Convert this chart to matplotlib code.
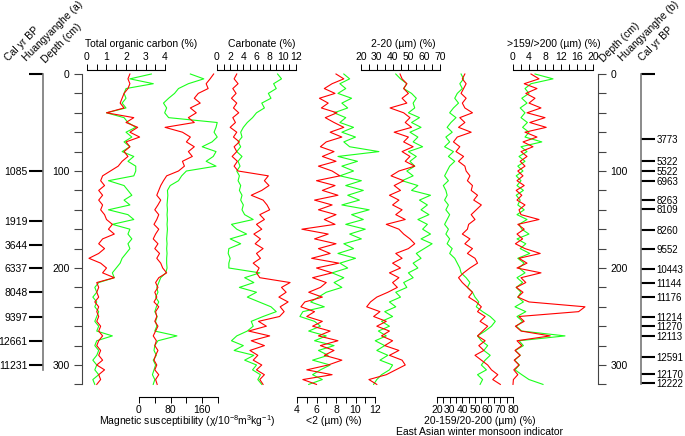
import matplotlib
matplotlib.use('Agg')
import matplotlib.pyplot as plt
from matplotlib.ticker import MultipleLocator

plt.rcParams['font.family'] = ['Liberation Sans', 'DejaVu Sans']
plt.rcParams['mathtext.default'] = 'regular'
plt.rcParams['font.size'] = 7.5

# ---------------------------------------------------------------- data
depth = [0, 5, 10, 15, 20, 25, 30, 35, 40, 45, 50, 55, 60, 65, 70, 75, 80, 85, 90, 95,
         100, 105, 110, 115, 120, 125, 130, 135, 140, 145, 150, 155, 160, 165, 170, 175,
         180, 185, 190, 195, 200, 205, 210, 215, 220, 225, 230, 235, 240, 245, 250, 255,
         260, 265, 270, 275, 280, 285, 290, 295, 300, 305, 310, 315, 320]

toc_red = [2.2, 2.1, 2.2, 2.1, 1.9, 1.8, 1.7, 1.9, 1.0, 2.4, 2.0, 2.6, 2.2, 2.7, 2.0, 2.2,
           1.9, 2.1, 1.8, 1.6, 1.2, 0.8, 0.7, 0.9, 0.6, 0.8, 0.6, 0.8, 0.7, 0.9, 1.0, 1.3,
           1.1, 1.4, 0.8, 0.6, 0.9, 0.6, 0.1, 0.7, 1.0, 0.8, 1.4, 0.5, 0.6, 0.5, 0.6, 0.4,
           0.6, 0.5, 0.6, 0.5, 0.7, 0.6, 0.8, 0.6, 0.5, 0.7, 0.6, 0.8, 0.5, 0.9, 0.6, 0.7, 0.5]
toc_green = [3.3, 2.2, 3.4, 2.0, 1.9, 2.0, 1.8, 2.0, 1.0, 1.9, 2.1, 2.5, 2.0, 2.3, 1.9, 2.2,
             1.8, 2.4, 2.1, 2.5, 2.5, 2.4, 1.1, 1.9, 2.1, 2.3, 1.9, 2.2, 1.1, 2.1, 2.4, 1.3,
             2.2, 2.1, 2.3, 2.1, 2.2, 2.0, 1.8, 1.7, 1.5, 1.3, 1.4, 0.6, 0.4, 0.5, 0.3, 0.5,
             0.4, 0.6, 0.5, 0.4, 0.6, 0.5, 1.3, 0.5, 0.4, 0.6, 0.5, 0.3, 0.5, 0.4, 0.6, 0.3, 0.4]

ms_red = [189, 180, 170, 175, 150, 140, 155, 130, 145, 125, 140, 66, 110, 130, 120, 140,
          125, 135, 110, 115, 100, 70, 62, 55, 50, 45, 55, 48, 40, 50, 45, 38,
          50, 42, 36, 48, 40, 52, 45, 55, 60, 70, 50, 42, 48, 40, 45, 38,
          50, 42, 45, 40, 48, 42, 36, 44, 40, 48, 42, 38, 45, 40, 50, 42, 46]
ms_green = [130, 164, 125, 100, 90, 75, 62, 70, 65, 75, 198, 195, 190, 198, 185, 160,
            195, 188, 170, 195, 120, 108, 100, 79, 72, 73, 72, 71, 72, 71, 72, 71,
            72, 71, 70, 71, 70, 71, 70, 70, 71, 68, 55, 50, 45, 48, 42, 50,
            44, 40, 46, 42, 45, 40, 96, 48, 40, 38, 44, 36, 42, 38, 34, 40, 36]

carb_red = [3.0, 2.6, 3.2, 2.4, 2.9, 2.2, 3.0, 2.5, 3.3, 2.4, 2.8, 2.0, 3.0, 2.5, 3.4, 2.6,
            3.0, 2.3, 3.1, 2.6, 3.2, 7.8, 7.2, 7.9, 6.8, 5.2, 7.0, 7.6, 8.0, 6.5, 7.2, 6.0,
            6.8, 5.6, 6.6, 5.8, 7.0, 6.0, 6.6, 5.5, 6.4, 6.0, 6.5, 11.1, 9.8, 10.5, 9.4, 10.8,
            9.6, 10.2, 9.5, 6.3, 7.5, 4.8, 8.0, 5.2, 7.2, 5.0, 6.2, 5.5, 6.8, 6.0, 7.2, 6.5, 7.0]
carb_green = [9.2, 9.8, 8.6, 9.0, 7.8, 8.2, 6.8, 7.2, 6.0, 5.4, 4.6, 4.0, 3.6, 3.8, 3.2, 3.6,
              3.0, 3.8, 3.2, 3.5, 3.0, 3.4, 3.2, 3.6, 3.4, 3.8, 3.6, 4.0, 3.8, 4.2, 5.5, 2.2,
              3.0, 4.5, 2.0, 3.6, 1.8, 1.7, 2.0, 1.8, 1.8, 6.5, 4.2, 5.6, 3.4, 6.0, 4.6, 6.4,
              8.2, 9.0, 7.0, 5.2, 5.5, 4.6, 3.0, 2.2, 4.0, 2.6, 5.6, 4.2, 6.0, 5.4, 6.6, 6.2, 6.8]

clay_red = [8.0, 8.8, 7.6, 6.8, 7.9, 6.3, 7.2, 6.5, 8.1, 6.9, 7.8, 8.8, 7.4, 8.6, 7.0, 6.4,
            7.8, 6.6, 8.0, 6.2, 7.6, 8.4, 6.0, 7.9, 6.6, 8.2, 5.8, 7.6, 6.2, 8.0, 6.8, 7.9,
            4.5, 7.2, 5.8, 8.0, 6.2, 7.4, 5.5, 8.3, 6.0, 7.6, 5.6, 7.0, 6.4, 5.2, 6.6, 4.8,
            4.4, 5.8, 5.0, 6.6, 5.6, 7.4, 6.2, 8.2, 6.4, 7.8, 6.8, 8.6, 7.2, 5.0, 7.6, 4.6, 6.0]
clay_green = [8.8, 9.4, 8.4, 9.0, 8.2, 9.6, 8.6, 9.2, 7.8, 9.0, 8.4, 9.8, 8.6, 10.0, 8.8, 9.4,
              12.4, 8.2, 10.2, 8.6, 9.8, 8.4, 10.6, 9.0, 10.8, 9.2, 10.4, 8.6, 11.4, 9.6, 10.8, 9.0,
              11.0, 9.4, 10.6, 8.8, 9.8, 8.2, 10.0, 8.4, 9.2, 7.6, 8.8, 7.8, 8.6, 7.0, 6.2, 5.4,
              6.8, 4.6, 4.3, 5.8, 6.4, 5.2, 7.0, 5.8, 7.8, 6.2, 7.2, 5.6, 7.4, 6.4, 5.6, 6.6, 5.2]

silt_red = [44.7, 46, 49, 47, 50, 46, 49, 38.4, 47, 51, 48, 52, 41, 50, 47, 53,
            46, 51, 48, 54, 44, 39, 47, 41, 45, 38, 44, 40, 46, 42, 48, 36,
            44, 47, 51, 54, 50, 42, 46, 40, 45, 38, 44, 40, 43, 37, 30, 26,
            23.6, 32, 28, 36, 30, 38, 33, 40, 35, 44, 38, 46, 48, 42, 36, 25, 30]
silt_green = [42, 45, 49, 47, 52, 55, 53, 54, 50, 57, 52, 58, 51, 56, 53, 59,
              50, 55, 51, 54, 49, 53, 46, 56, 52, 64, 57, 62, 58, 63, 56, 62,
              59, 64, 58, 65, 60, 55, 58, 53, 56, 50, 53, 47, 49, 42, 45, 38,
              42, 35, 40, 33, 38, 31, 36, 29, 35, 30, 37, 32, 40, 38, 33, 30, 28]

wm_red = [42, 40, 43, 41, 39, 43, 40, 42, 48, 38, 42, 37, 47, 36, 33, 38,
          35, 41, 37, 42, 43, 46, 44, 48, 47, 52, 49, 55, 51, 47, 50, 45,
          44, 40, 46, 42, 48, 44, 50, 52, 46, 41, 37, 40, 44, 48, 45, 51,
          55, 52, 58, 54, 60, 56, 52, 58, 53, 57, 50, 55, 60, 63, 68, 64, 70]
wm_green = [39, 41, 38, 40, 36, 34, 37, 33, 30, 35, 31, 28, 32, 27, 30, 26,
            33, 29, 34, 30, 28, 26, 29, 25, 27, 28, 26, 29, 27, 30, 28, 26,
            29, 27, 30, 28, 32, 30, 34, 36, 38, 39, 43, 46, 44, 48, 50, 53,
            51, 56, 62, 66, 63, 58, 52, 55, 60, 57, 62, 58, 55, 59, 52, 56, 54]

coarse_red = [4.5, 6.5, 2.8, 6.0, 3.2, 5.5, 4.0, 7.0, 3.5, 8.0, 4.2, 8.3, 3.0, 6.0, 2.5, 5.0,
              2.0, 3.5, 1.8, 3.0, 1.2, 2.5, 1.0, 2.8, 0.8, 2.2, 1.0, 3.0, 1.5, 2.0, 6.5, 1.2,
              2.8, 1.0, 2.4, 0.6, 3.0, 6.8, 1.5, 3.5, 1.0, 7.0, 2.0, 3.2, 0.8, 2.5, 1.2, 4.0,
              18.0, 16.4, 1.5, 2.8, 0.6, 2.0, 9.3, 1.0, 2.2, 0.5, 1.8, 0.3, 1.5, 0.2, 1.2, 0.1, 0.0]
coarse_green = [5.5, 10.0, 4.5, 3.0, 4.0, 2.2, 3.5, 1.8, 3.0, 2.0, 3.6, 2.4, 4.0, 3.0, 7.2, 2.0,
                3.5, 1.5, 3.0, 1.2, 2.5, 0.8, 2.0, 1.0, 2.6, 0.8, 1.8, 1.2, 2.8, 1.0, 3.5, 1.5,
                2.2, 4.0, 1.0, 3.2, 1.8, 4.2, 1.2, 2.8, 1.5, 3.0, 1.0, 2.4, 0.8, 2.0, 1.2, 2.6,
                0.5, 3.2, 1.0, 2.4, 0.8, 2.2, 13.0, 1.5, 2.6, 0.6, 1.8, 0.4, 1.6, 0.5, 2.2, 4.0, 7.5]

calyr_a_depth = [0, 100, 151.5, 176, 200.5, 224.5, 250, 275, 300]
calyr_a_labels = ['', '1085', '1919', '3644', '6337', '8048', '9397', '12661', '11231']
calyr_b_depth = [0, 67.3, 89.7, 99.5, 110, 129.9, 138.8, 160.8, 180.8, 201.4, 215, 230,
                 250, 260, 270.5, 291.8, 309, 318.5]
calyr_b_labels = ['', '3773', '5322', '5522', '6963', '8263', '8109', '8260', '9552', '10443',
                  '11144', '11176', '11214', '11270', '12113', '12591', '12170', '12222']

# ---------------------------------------------------------------- layout
W, H = 685, 436
fig = plt.figure(figsize=(W / 100, H / 100), dpi=100)
Y_TOP, Y_BOT = 74, 384.4   # pixel rows of depth 0 and depth 320
DMAX = 320
RED, GREEN = '#ff0000', '#1aff1a'


def px_axes(x0, x1):
    ax = fig.add_axes([x0 / W, 1 - Y_BOT / H, (x1 - x0) / W, (Y_BOT - Y_TOP) / H])
    ax.patch.set_alpha(0)
    ax.set_ylim(DMAX, 0)
    for s in ax.spines.values():
        s.set_visible(False)
    ax.set_yticks([])
    return ax


def panel(x0, x1, lim, major, minor, side, red, green):
    ax = px_axes(x0, x1)
    ax.set_xlim(*lim)
    ax.plot(green, depth, color=GREEN, lw=0.8, clip_on=False)
    ax.plot(red, depth, color=RED, lw=0.8, clip_on=False)
    ax.spines[side].set_visible(True)
    ax.spines[side].set_linewidth(0.8)
    ax.xaxis.set_ticks_position(side)
    if side == 'top':
        ax.spines[side].set_position(('outward', 3))
    else:
        ax.spines[side].set_position(('outward', 9))
    ax.xaxis.set_major_locator(MultipleLocator(major))
    ax.xaxis.set_minor_locator(MultipleLocator(minor))
    ax.tick_params(axis='x', which='both', direction='out', length=4, width=0.7,
                   pad=1.5, labelsize=7.5)
    return ax


panel(87, 165, (0, 4), 1, 0.5, 'top', toc_red, toc_green)
panel(139, 218, (0, 200), 80, 40, 'bottom', ms_red, ms_green)
panel(217, 296, (0, 12), 2, 1, 'top', carb_red, carb_green)
panel(297, 375, (4, 12), 2, 1, 'bottom', clay_red, clay_green)
panel(361, 440, (20, 70), 10, 5, 'top', silt_red, silt_green)
panel(437, 513, (20, 80), 10, 5, 'bottom', wm_red, wm_green)
panel(513, 593, (0, 20), 4, 2, 'top', coarse_red, coarse_green)

# titles
fig.text(141 / W, 1 - 44 / H, 'Total organic carbon (%)', ha='center', va='center')
fig.text(262 / W, 1 - 44 / H, 'Carbonate (%)', ha='center', va='center')
fig.text(403 / W, 1 - 44 / H, '2-20 (µm) (%)', ha='center', va='center')
fig.text(554 / W, 1 - 44 / H, '>159/>200 (µm) (%)', ha='center', va='center')
fig.text(187 / W, 1 - 421 / H, r'Magnetic susceptibility (χ/10$^{-8}$m$^{3}$kg$^{-1}$)',
         ha='center', va='center')
fig.text(334 / W, 1 - 421 / H, '<2 (µm) (%)', ha='center', va='center')
fig.text(480 / W, 1 - 421 / H, '20-159/20-200 (µm) (%)', ha='center', va='center')
fig.text(480 / W, 1 - 432 / H, 'East Asian winter monsoon indicator', ha='center', va='center')

# depth axes
for xs, side in [(82, 'left'), (598, 'right')]:
    dax = px_axes(xs, xs + 1) if side == 'left' else px_axes(xs - 1, xs)
    dax.spines[side].set_visible(True)
    dax.spines[side].set_color('#444444')
    dax.yaxis.set_ticks_position(side)
    dax.set_yticks([0, 100, 200, 300])
    dax.yaxis.set_minor_locator(MultipleLocator(20))
    dax.set_xticks([])
    dax.tick_params(axis='y', which='both', direction='out', length=6, width=0.8,
                    pad=3, labelsize=7.5, color='#444444')

# cal yr BP axes
for xs, side, dd, ll, fs in [(43, 'left', calyr_a_depth, calyr_a_labels, 7.5),
                             (641, 'right', calyr_b_depth, calyr_b_labels, 7)]:
    cax = px_axes(xs, xs + 1) if side == 'left' else px_axes(xs - 1, xs)
    cax.spines[side].set_visible(True)
    cax.spines[side].set_color('#777777')
    cax.spines[side].set_linewidth(1.2)
    cax.spines[side].set_bounds(0, 305 if side == 'left' else 320)
    cax.yaxis.set_ticks_position(side)
    cax.set_yticks(dd)
    cax.set_yticklabels(ll)
    cax.set_xticks([])
    cax.tick_params(axis='y', direction='out', length=10, width=1.5, pad=1,
                    labelsize=fs, color='black')

# rotated headers
for x, y, s in [(9, 62, 'Cal yr BP'), (27, 62, 'Huangyanghe (a)'), (46, 64, 'Depth (cm)'),
                (604, 63, 'Depth (cm)'), (623, 62, 'Huangyanghe (b)'), (643, 62, 'Cal yr BP')]:
    fig.text(x / W, 1 - y / H, s, rotation=45, rotation_mode='anchor',
             ha='left', va='baseline')

fig.savefig('out.png', dpi=100)
